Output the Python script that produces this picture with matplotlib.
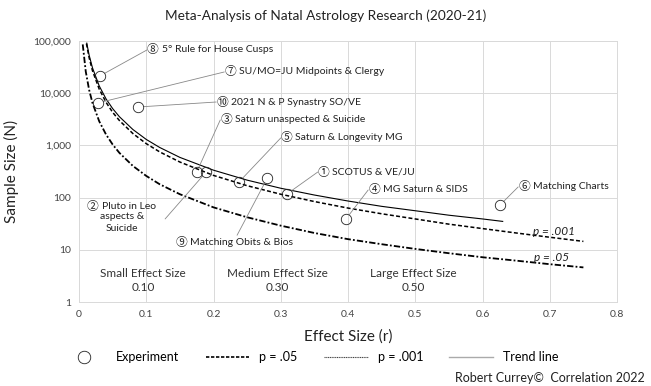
import numpy as np
import matplotlib.pyplot as plt
from matplotlib.lines import Line2D

plt.rcParams['font.family'] = ['Lato', 'DejaVu Sans']
NUM_FONT = ['Noto Sans CJK JP', 'DejaVu Sans']

# ---- data ----
# p = .05 curve (sample size needed vs effect size)
p05_r = [0.0055, 0.01, 0.015, 0.02, 0.03, 0.04, 0.05, 0.06, 0.08, 0.1, 0.12, 0.15,
         0.2, 0.25, 0.3, 0.35, 0.4, 0.45, 0.5, 0.55, 0.6, 0.65, 0.7, 0.75]
p05_n = [86000, 26000, 11600, 6500, 2900, 1630, 1040, 720, 405, 260, 180, 116,
         65, 42, 29, 21, 16, 12.8, 10.4, 8.6, 7.2, 6.2, 5.3, 4.6]

# p = .001 curve
p001_r = [0.011, 0.015, 0.02, 0.03, 0.04, 0.05, 0.06, 0.08, 0.1, 0.12, 0.15,
          0.2, 0.25, 0.3, 0.35, 0.4, 0.45, 0.5, 0.55, 0.6, 0.65, 0.7, 0.75]
p001_n = [89000, 48000, 27000, 12000, 6750, 4300, 3000, 1690, 1080, 750, 480,
          266, 169, 116, 84, 63, 49, 39, 31, 25.5, 21, 17.4, 14.5]

# trend line
trend_r = [0.0115, 0.015, 0.02, 0.03, 0.04, 0.05, 0.06, 0.08, 0.1, 0.12, 0.15,
           0.2, 0.25, 0.3, 0.35, 0.4, 0.45, 0.5, 0.55, 0.6, 0.63]
trend_n = [91000, 53700, 30600, 13800, 7850, 5070, 3550, 2020, 1300, 912, 589,
           335, 216, 151, 112, 86, 68, 56, 46, 39, 35]

# experiments
exp_nums = ["\u2467", "\u2466", "\u2469", "\u2462", "\u2461",
            "\u2464", "\u2468", "\u2460", "\u2463", "\u2465"]
exp_names = ["5° Rule for House Cusps",
             "SU/MO=JU Midpoints & Clergy",
             "2021 N & P Synastry SO/VE",
             "Saturn unaspected & Suicide",
             "Pluto in Leo",
             "Saturn & Longevity MG",
             "Matching Obits & Bios",
             "SCOTUS & VE/JU",
             "MG Saturn & SIDS",
             "Matching Charts"]
exp_r = [0.031, 0.028, 0.088, 0.175, 0.189, 0.238, 0.280, 0.309, 0.397, 0.626]
exp_n = [21400, 6500, 5440, 309, 309, 200, 237, 117, 39, 72]
# where each label's number sits, and where its leader starts
lab_r = [0.101, 0.216, 0.204, 0.210, 0.012, 0.300, 0.144, 0.355, 0.430, 0.653]
lab_n = [67300, 25500, 6780, 3070, 67, 1390, 14.1, 309, 140, 160]
lead_r = [0.101, 0.216, 0.204, 0.210, 0.128, 0.300, 0.235, 0.355, 0.430, 0.653]
lead_n = [67300, 25500, 6780, 3070, 39, 1390, 19, 309, 140, 160]
pluto_extra = "aspects &\nSuicide"

effect_names = ["Small Effect Size\n0.10", "Medium Effect Size\n0.30", "Large Effect Size\n0.50"]
effect_r = [0.095, 0.295, 0.497]

xticks = [0, 0.1, 0.2, 0.3, 0.4, 0.5, 0.6, 0.7, 0.8]
xticklabels = ["0", "0.1", "0.2", "0.3", "0.4", "0.5", "0.6", "0.7", "0.8"]
yticks = [1, 10, 100, 1000, 10000, 100000]
yticklabels = ["1", "10", "100", "1,000", "10,000", "100,000"]

# ---- figure ----
fig = plt.figure(figsize=(6.51, 3.86), dpi=100)
ax = fig.add_axes([0.1214, 0.2176, 0.8264, 0.6762])

ax.set_yscale('log')
ax.set_xlim(0, 0.8)
ax.set_ylim(1, 100000)
ax.set_xticks(xticks)
ax.set_xticklabels(xticklabels)
ax.set_yticks(yticks)
ax.set_yticklabels(yticklabels)
ax.minorticks_off()
ax.tick_params(length=0, labelsize=7.5, colors='#444444', pad=6)
ax.grid(True, color='#d9d9d9', lw=0.7)
for s in ax.spines.values():
    s.set_color('#d9d9d9')
    s.set_linewidth(0.7)

ax.plot(p05_r, p05_n, color='black', lw=1.3, ls=(0, (3.5, 1.2, 1, 1.2)), zorder=3)
ax.plot(p001_r, p001_n, color='black', lw=1.1, ls=(0, (2.6, 1.5)), zorder=3)
ax.plot(trend_r, trend_n, color='black', lw=0.8, zorder=3)

ax.plot(exp_r, exp_n, 'o', ms=7.5, mfc='none', mec='#222222', mew=0.6, zorder=4)

for i in range(len(exp_names)):
    # leader line
    ax.annotate('', xy=(exp_r[i], exp_n[i]), xytext=(lead_r[i], lead_n[i]),
                arrowprops=dict(arrowstyle='-', color='#888888', lw=0.6,
                                shrinkA=0, shrinkB=4))
    # circled number + name
    ax.text(lab_r[i], lab_n[i], exp_nums[i], ha='left', va='center',
            fontsize=8.5, color='#222222', family=NUM_FONT)
    ax.annotate(exp_names[i], xy=(lab_r[i], lab_n[i]), xytext=(10.5, 0),
                textcoords='offset points', ha='left', va='center',
                fontsize=7.5, color='#222222')

# second and third line of the Pluto label
ax.annotate(pluto_extra, xy=(lab_r[4], lab_n[4]), xytext=(25, -4),
            textcoords='offset points', ha='center', va='top',
            fontsize=7.5, color='#222222', multialignment='center', linespacing=1.35)

for name, r in zip(effect_names, effect_r):
    ax.text(r, 2.6, name, ha='center', va='center', fontsize=8.5,
            color='#333333', linespacing=1.3)

ax.text(0.675, 22, "p = .001", fontsize=8.5, style='italic', color='#222222', va='center')
ax.text(0.677, 7.0, "p = .05", fontsize=8.5, style='italic', color='#222222', va='center')

fig.text(0.5, 0.958, "Meta-Analysis of Natal Astrology Research (2020-21)",
         ha='center', va='center', fontsize=9.8, color='#222222')
ax.set_xlabel("Effect Size (r)", fontsize=11, color='#222222', labelpad=7)
ax.set_ylabel("Sample Size (N)", fontsize=11, color='#222222', labelpad=10)

handles = [Line2D([], [], marker='o', ls='none', ms=9, mfc='none', mec='#222222', mew=0.6),
           Line2D([], [], color='black', lw=1.2, ls=(0, (2, 1))),
           Line2D([], [], color='#444444', lw=0.8, ls=(0, (1, 0.6))),
           Line2D([], [], color='#aaaaaa', lw=1.0)]
fig.legend(handles, ["Experiment", "p = .05", "p = .001", "Trend line"],
           loc='center', bbox_to_anchor=(0.477, 0.075), ncol=4, frameon=False,
           fontsize=9, handlelength=3.5, columnspacing=2.1, handletextpad=0.8)

fig.text(0.99, 0.021, "Robert Currey\u00a9  Correlation 2022", ha='right', va='center',
         fontsize=9, color='#222222')

fig.savefig("out.png", dpi=100)
